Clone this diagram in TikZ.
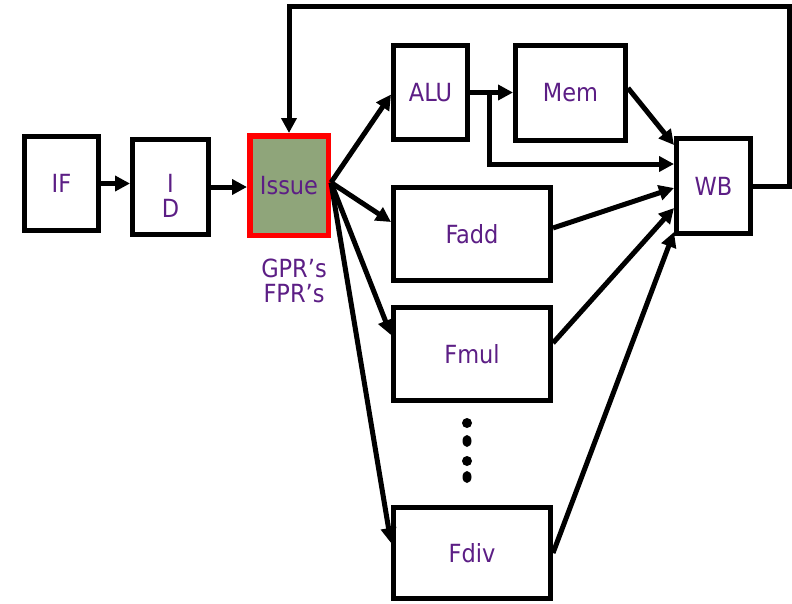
\documentclass[tikz,border=0pt]{standalone}
\usepackage{fontspec}
\setmainfont{DejaVu Sans Condensed}
\usetikzlibrary{arrows.meta}
\definecolor{txtpurple}{HTML}{5C1E85}
\definecolor{issuegreen}{HTML}{8FA57A}
\definecolor{issuered}{HTML}{FF0000}
\begin{document}
\begin{tikzpicture}[x=1pt,y=-1pt,
  every node/.style={font=\fontsize{25}{25}\selectfont, text=txtpurple, align=center},
  stagebox/.style={draw=black, line width=5pt, fill=white, inner sep=0pt},
  conn/.style={line width=5pt, -{Triangle[length=15pt,width=15pt]}}]
\useasboundingbox (0,0) rectangle (792,603);
% stages
\node[stagebox, minimum width=74pt, minimum height=94pt] (IF) at (61.5,183.5) {IF};
\node[stagebox, minimum width=76pt, minimum height=95pt] (ID) at (170.5,187) {};
\node (IDtext) at (170.5,196) {I\\D};
\node[stagebox, draw=issuered, fill=issuegreen, line width=5.5pt, minimum width=78.5pt, minimum height=99.5pt] (Issue) at (289,185.5) {Issue};
\node (regs) at (294,280.5) {GPR’s\\FPR’s};
\node[stagebox, minimum width=74pt, minimum height=94pt] (ALU) at (430.5,92.5) {ALU};
\node[stagebox, minimum width=110pt, minimum height=95pt] (Mem) at (570.5,93) {Mem};
\node[stagebox, minimum width=74pt, minimum height=95pt] (WB) at (713.5,186) {WB};
\node[stagebox, minimum width=157pt, minimum height=93pt] (Fadd) at (472,234) {Fadd};
\node[stagebox, minimum width=157pt, minimum height=93pt] (Fmul) at (472,354) {Fmul};
\node[stagebox, minimum width=157pt, minimum height=91pt] (Fdiv) at (472,553) {Fdiv};
% dots
\fill (467,423) circle[radius=5pt];
\fill (467,441) ellipse[x radius=4.5pt, y radius=6pt];
\fill (467,461) circle[radius=5pt];
\fill (467,477) ellipse[x radius=4.5pt, y radius=6pt];
% front end
\draw[conn] (IF.east) -- (IF.east -| ID.west);
\draw[conn] (ID.east) -- (ID.east -| Issue.west);
% issue to units
\coordinate (iss) at ([yshift=3pt]Issue.east);
\draw[conn] (iss) -- ([yshift=-2pt]ALU.west);
\draw[conn] (iss) -- ([yshift=12pt]Fadd.west);
\draw[conn] (iss) -- ([yshift=19pt]Fmul.west);
\draw[conn] (iss) -- ([yshift=10pt]Fdiv.west);
% ALU path
\draw[conn] (ALU.east) -- (ALU.east -| Mem.west);
\coordinate (br) at (489,92.5);
\draw[conn] (br) |- ([yshift=22pt]WB.west);
\draw[conn] ([yshift=5pt]Mem.east) -- ([yshift=41pt]WB.west);
% FP units to WB
\draw[conn] ([yshift=6pt]Fadd.east) -- ([yshift=-2pt]WB.west);
\draw[conn] ([yshift=11pt]Fmul.east) -- ([yshift=-22pt]WB.west);
\draw[conn] (Fdiv.east) -- ([yshift=-46pt]WB.west);
% feedback
\coordinate (fbR) at (789,6);
\draw[conn] (WB.east) -| (fbR) -| (Issue.north);
\end{tikzpicture}
\end{document}
